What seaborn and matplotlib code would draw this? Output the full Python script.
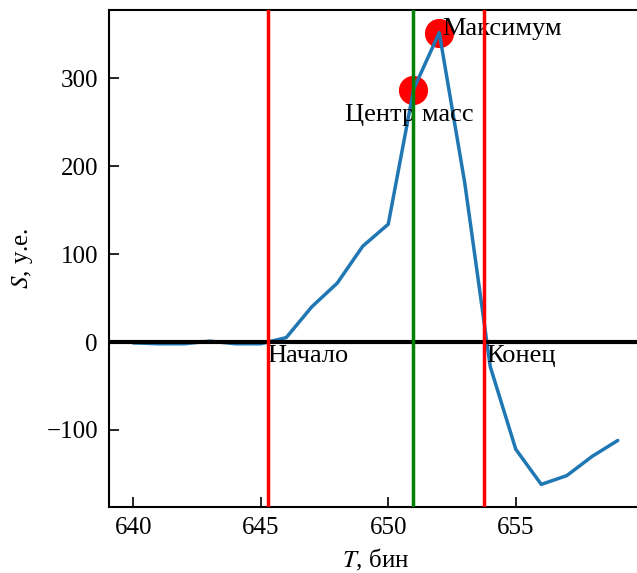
import numpy as np
import pandas as pd
import matplotlib
matplotlib.use("Agg")
import matplotlib.pyplot as plt
import seaborn as sns

# signal samples per bin
bins = list(range(640, 660))
signal = [-1, -2, -2, 1, -2, -2, 5, 40, 67, 109, 134, 288, 352, 181, -28,
          -122, -162, -152, -130, -112]

t_start = 645.27
t_end = 653.75
t_cm, s_cm = 650.98, 287
t_max, s_max = 652, 352

sns.set_style("ticks")
plt.rcParams["font.family"] = ["Liberation Serif", "DejaVu Serif"]
plt.rcParams["mathtext.fontset"] = "stix"
plt.rcParams["font.size"] = 18
for k in ["text.color", "axes.labelcolor", "xtick.color", "ytick.color", "axes.edgecolor"]:
    plt.rcParams[k] = "black"

fig = plt.figure(figsize=(6.37, 5.73), dpi=100)
ax = fig.add_axes([109 / 637, 66 / 573, 533 / 637, 497 / 573])

df = pd.DataFrame({"T": bins, "S": signal})
sns.lineplot(data=df, x="T", y="S", ax=ax, color="tab:blue", linewidth=2.5, zorder=3)

ax.axhline(0, color="black", linewidth=3, zorder=4)
# vertical markers drawn on top of the zero line
ax.axvline(t_start, color="red", linewidth=2.5, zorder=5)
ax.axvline(t_end, color="red", linewidth=2.5, zorder=5)
ax.axvline(t_cm, color="green", linewidth=2.5, zorder=5)

# markers sit under the lines
ax.scatter([t_cm, t_max], [s_cm, s_max], s=400, color="red", zorder=1.5)

fs = 19
ax.annotate("Начало", (t_start, 0), xytext=(0, -2), textcoords="offset points",
            ha="left", va="top", fontsize=fs)
ax.annotate("Конец", (t_end, 0), xytext=(2, -2), textcoords="offset points",
            ha="left", va="top", fontsize=fs)
ax.annotate("Максимум", (t_max, s_max), xytext=(2, -5), textcoords="offset points",
            ha="left", va="bottom", fontsize=fs)
ax.annotate("Центр масс", (t_cm, s_cm), xytext=(-3, -10),
            textcoords="offset points", ha="center", va="top", fontsize=fs)

ax.set_xlabel("$T$, бин", labelpad=6)
ax.set_ylabel("$S$, у.е.", labelpad=8)
ax.tick_params(direction="in", length=7, width=1.2, labelsize=18)
ax.tick_params(axis="y", pad=8)
ax.tick_params(axis="x", pad=7)
for sp in ax.spines.values():
    sp.set_linewidth(1.5)

fig.savefig("out.png", dpi=100)
